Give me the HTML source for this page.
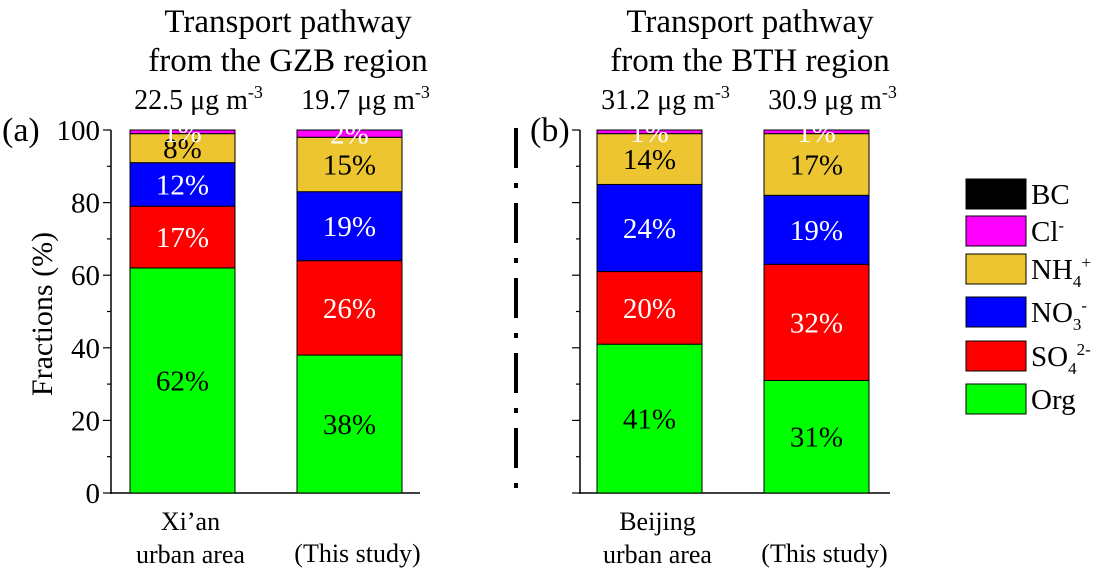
<!DOCTYPE html>
<html><head><meta charset="utf-8">
<style>
body{margin:0;background:#fff;}
svg{display:block;font-family:"Liberation Serif",serif;}
</style></head>
<body>
<svg id="chart" width="1096" height="578" viewBox="0 0 1096 578">
<text x="288" y="32" font-size="33" text-anchor="middle">Transport pathway</text>
<text x="288" y="71" font-size="33" text-anchor="middle">from the GZB region</text>
<text x="750" y="32" font-size="33" text-anchor="middle">Transport pathway</text>
<text x="750" y="71" font-size="33" text-anchor="middle">from the BTH region</text>
<text x="2" y="141" font-size="34">(a)</text>
<text x="530" y="141" font-size="34">(b)</text>
<text transform="translate(52,314) rotate(-90)" font-size="30" text-anchor="middle">Fractions (%)</text>
<g id="marks"></g>
<g id="legend"></g>
</svg>
<script>
const categories=["Xi’an urban area","(This study)","Beijing urban area","(This study)"];
const concentrations=["22.5","19.7","31.2","30.9"];
const species=["Org","SO4","NO3","NH4","Cl","BC"];
const orgVals=[62,38,41,31];
const so4Vals=[17,26,20,32];
const no3Vals=[12,19,24,19];
const nh4Vals=[8,15,14,17];
const clVals=[1,2,1,1];
const bcVals=[0,0,0,0];
const yTicks=[0,20,40,60,80,100];

const NS="http://www.w3.org/2000/svg";
const svg=document.getElementById('marks');
const colors=["#00ff00","#ff0000","#0000ff","#ecc530","#ff00ff","#000000"];
const txtColors=["#000","#fff","#fff","#000","#fff","#fff"];
const series=[orgVals,so4Vals,no3Vals,nh4Vals,clVals,bcVals];
const y0=493,pxPer=3.63;
function y(v){return y0-v*pxPer;}
const barX=[130,297,597,764],barW=105;
function mk(tag,attrs,parent){const e=document.createElementNS(NS,tag);for(const k in attrs)e.setAttribute(k,attrs[k]);(parent||svg).appendChild(e);return e;}
[[111,420],[580,890]].forEach((ax,pi)=>{
  const l=mk('line',{x1:ax[0],y1:y(100),x2:ax[0],y2:y0+1,stroke:'#000','stroke-width':1.5});
  
  
  const b=mk('line',{x1:ax[0],y1:y0,x2:ax[1],y2:y0,stroke:'#000','stroke-width':1.5});
  
  
  for(let v=0;v<=100;v+=10){
    const major=v%20===0;
    const t=mk('line',{x1:ax[0]-(major?8:4),y1:y(v),x2:ax[0],y2:y(v),stroke:'#000','stroke-width':1.2});
    
    
  }
});
yTicks.forEach(v=>{
  const t=mk('text',{x:100,y:y(v)+10,'font-size':29,'text-anchor':'end'});
  t.textContent=v;
  
  
});
for(let yy=128;yy<490;yy+=75){
  const d=mk('rect',{x:514,y:yy,width:4,height:40,fill:'#000'});
  
  
  if(yy+55<495){const d2=mk('rect',{x:514,y:yy+55,width:4,height:5,fill:'#000'});
  
  }
}
categories.forEach((c,i)=>{
  let cum=0;
  series.forEach((s,k)=>{
    const v=s[i];
    if(v<=0){cum+=v;return;}
    const r=mk('rect',{x:barX[i],y:y(cum+v),width:barW,height:v*pxPer,fill:colors[k],stroke:'#000','stroke-width':1});
    
    
    const t=mk('text',{x:barX[i]+barW/2,y:y(cum+v/2)+10,'font-size':29,'text-anchor':'middle',fill:txtColors[k]});
    t.textContent=v+'%';
    
    
    cum+=v;
  });
  const cx=barX[i]+barW/2;
  const ct=mk('text',{x:cx+16,y:109,'font-size':28,'text-anchor':'middle'});
  ct.innerHTML=concentrations[i]+' μg m<tspan dy="-11" font-size="18">-3</tspan>';
  
  
  const parts=c.startsWith('(')?[c]:[c.split(' ')[0],c.split(' ').slice(1).join(' ')];
  parts.forEach((p,j)=>{
    const tl=mk('text',{x:cx+8,y:(parts.length===1?562:530+j*33),'font-size':26,'text-anchor':'middle'});
    tl.textContent=p;
    
    
  });
});
const lg=document.getElementById('legend');
const legLabels=['BC','Cl<tspan dy="-10" font-size="17">-</tspan>','NH<tspan dy="8" font-size="17">4</tspan><tspan dy="-19" font-size="17">+</tspan>','NO<tspan dy="8" font-size="17">3</tspan><tspan dy="-19" font-size="17">-</tspan>','SO<tspan dy="8" font-size="17">4</tspan><tspan dy="-19" font-size="17">2-</tspan>','Org'];
const legCols=[colors[5],colors[4],colors[3],colors[2],colors[1],colors[0]];
const legY=[179,216,254,297,341,384];
legLabels.forEach((l,i)=>{
  const r=mk('rect',{x:966,y:legY[i],width:60,height:30,fill:legCols[i],stroke:'#000','stroke-width':1},lg);
  
  
  const t=mk('text',{x:1031,y:legY[i]+25,'font-size':29},lg);
  t.innerHTML=l;
  
  
});
</script>
</body></html>
